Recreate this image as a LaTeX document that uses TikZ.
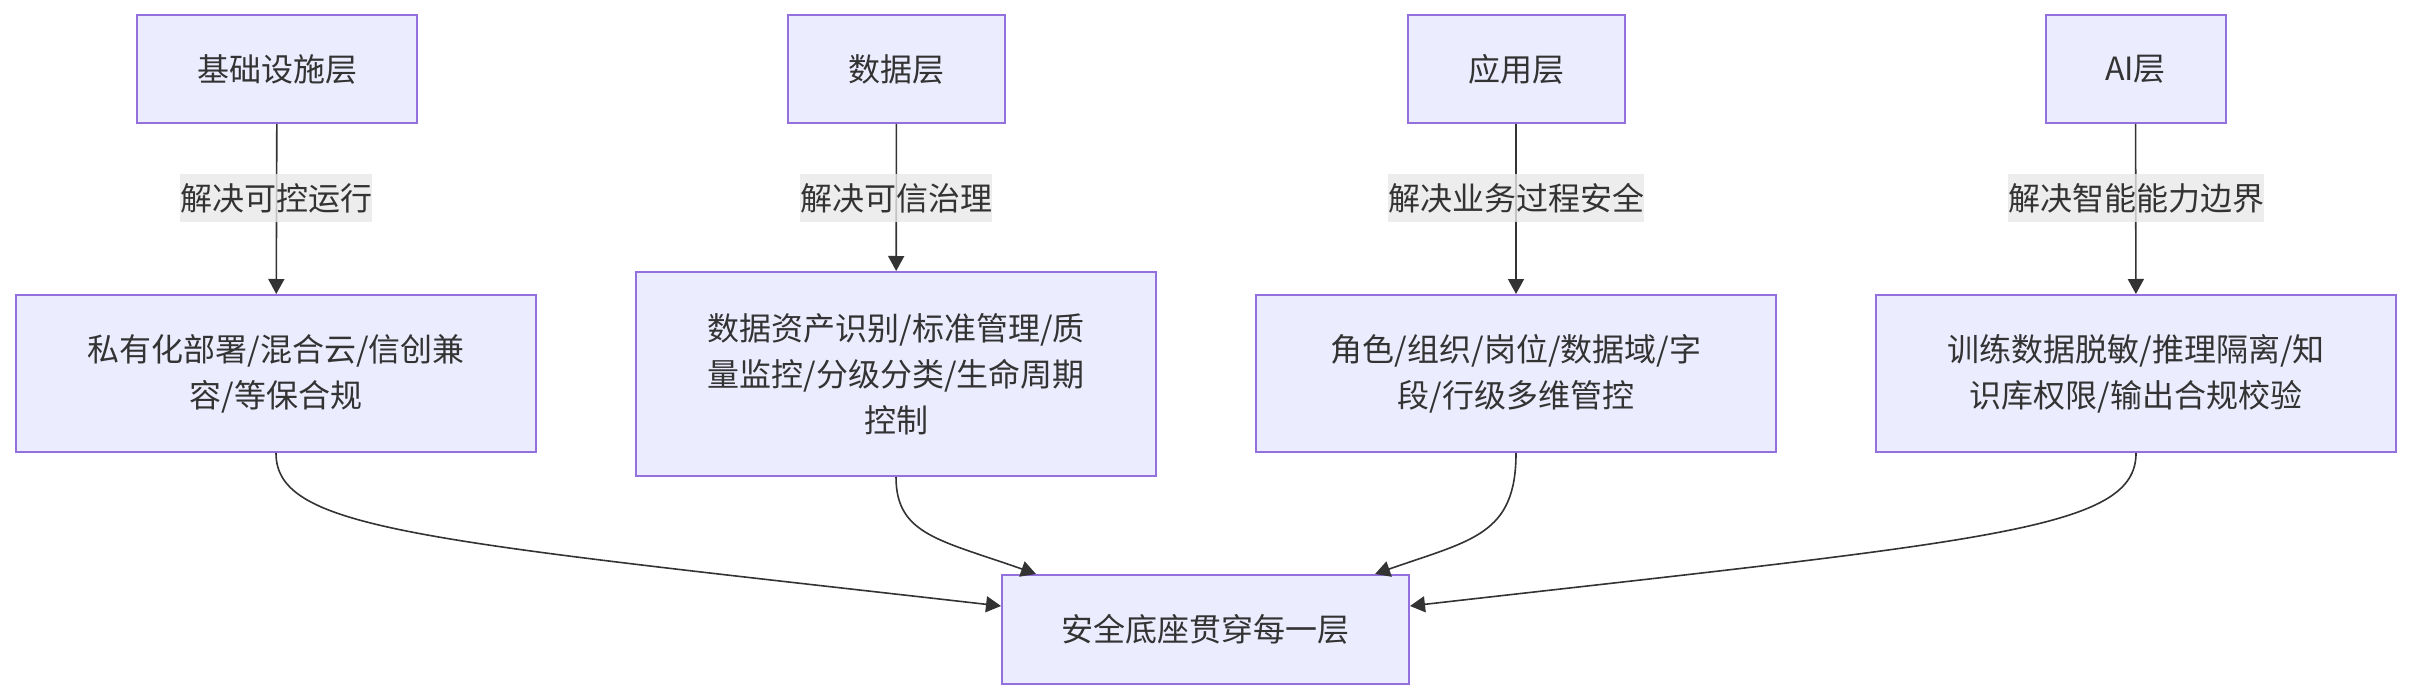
\documentclass[tikz,border=0pt]{standalone}
\usepackage{fontspec}
\setmainfont{Noto Sans CJK SC}
\usetikzlibrary{arrows.meta}

\definecolor{boxfill}{HTML}{ECECFF}
\definecolor{boxline}{HTML}{9370DB}
\definecolor{ink}{HTML}{333333}
\definecolor{lblbg}{HTML}{E8E8E8}

\tikzset{
  layer/.style={draw=boxline, fill=boxfill, line width=1pt, text=ink,
    inner sep=0pt, minimum height=54pt},
  detail/.style={layer, minimum width=260pt, minimum height=78.5pt, align=center},
  elabel/.style={fill=lblbg, fill opacity=0.8, text opacity=1, text=ink,
    inner sep=0pt, minimum height=24pt},
  link/.style={draw=ink, line width=0.8pt},
}

\begin{document}
\begin{tikzpicture}[x=0.5pt, y=-0.5pt, >={Triangle[length=7.5pt,width=8pt]},
    every node/.style={font=\fontsize{16pt}{23pt}\selectfont}]
  \useasboundingbox (0,0) rectangle (2412,700);
  % layers
  \node[layer, minimum width=140pt]   (infra) at (277,69)    {基础设施层};
  \node[layer, minimum width=108.5pt] (data)  at (896.5,69)  {数据层};
  \node[layer, minimum width=108.5pt] (app)   at (1516,69)   {应用层};
  \node[layer, minimum width=90pt]    (ai)    at (2135.5,69) {AI层};
  % measures
  \node[detail] (infraM) at (276,373.5) {私有化部署/混合云/信创兼\\容/等保合规};
  \node[detail, minimum height=102pt] (dataM) at (896,374) {数据资产识别/标准管理/质\\量监控/分级分类/生命周期\\控制};
  \node[detail] (appM) at (1516,373.5) {角色/组织/岗位/数据域/字\\段/行级多维管控};
  \node[detail] (aiM)  at (2136,373.5) {训练数据脱敏/推理隔离/知\\识库权限/输出合规校验};
  \node[layer, minimum width=203.5pt, minimum height=54.5pt] (base) at (1205.5,629.5) {安全底座贯穿每一层};
  % top links
  \draw[link, ->] (infra) -- (infraM);
  \draw[link, ->] (data) -- (dataM);
  \draw[link, ->] (app) -- (appM);
  \draw[link, ->] (ai) -- (aiM);
  \node[elabel] (l1) at (276,198)  {解决可控运行};
  \node[elabel] (l2) at (896,198)  {解决可信治理};
  \node[elabel] (l3) at (1516,198) {解决业务过程安全};
  \node[elabel] (l4) at (2136,198) {解决智能能力边界};
  % into the base
  \draw[link, ->] (infraM.south) .. controls (276,530) and (420,540) .. ([yshift=11.75pt]base.west);
  \draw[link, ->] (dataM.south) .. controls (896,535) and (940,540) .. ([xshift=-84.75pt]base.north);
  \draw[link, ->] (appM.south) .. controls (1516,535) and (1472,540) .. ([xshift=84.75pt]base.north);
  \draw[link, ->] (aiM.south) .. controls (2136,530) and (1992,540) .. ([yshift=11.75pt]base.east);
\end{tikzpicture}
\end{document}
